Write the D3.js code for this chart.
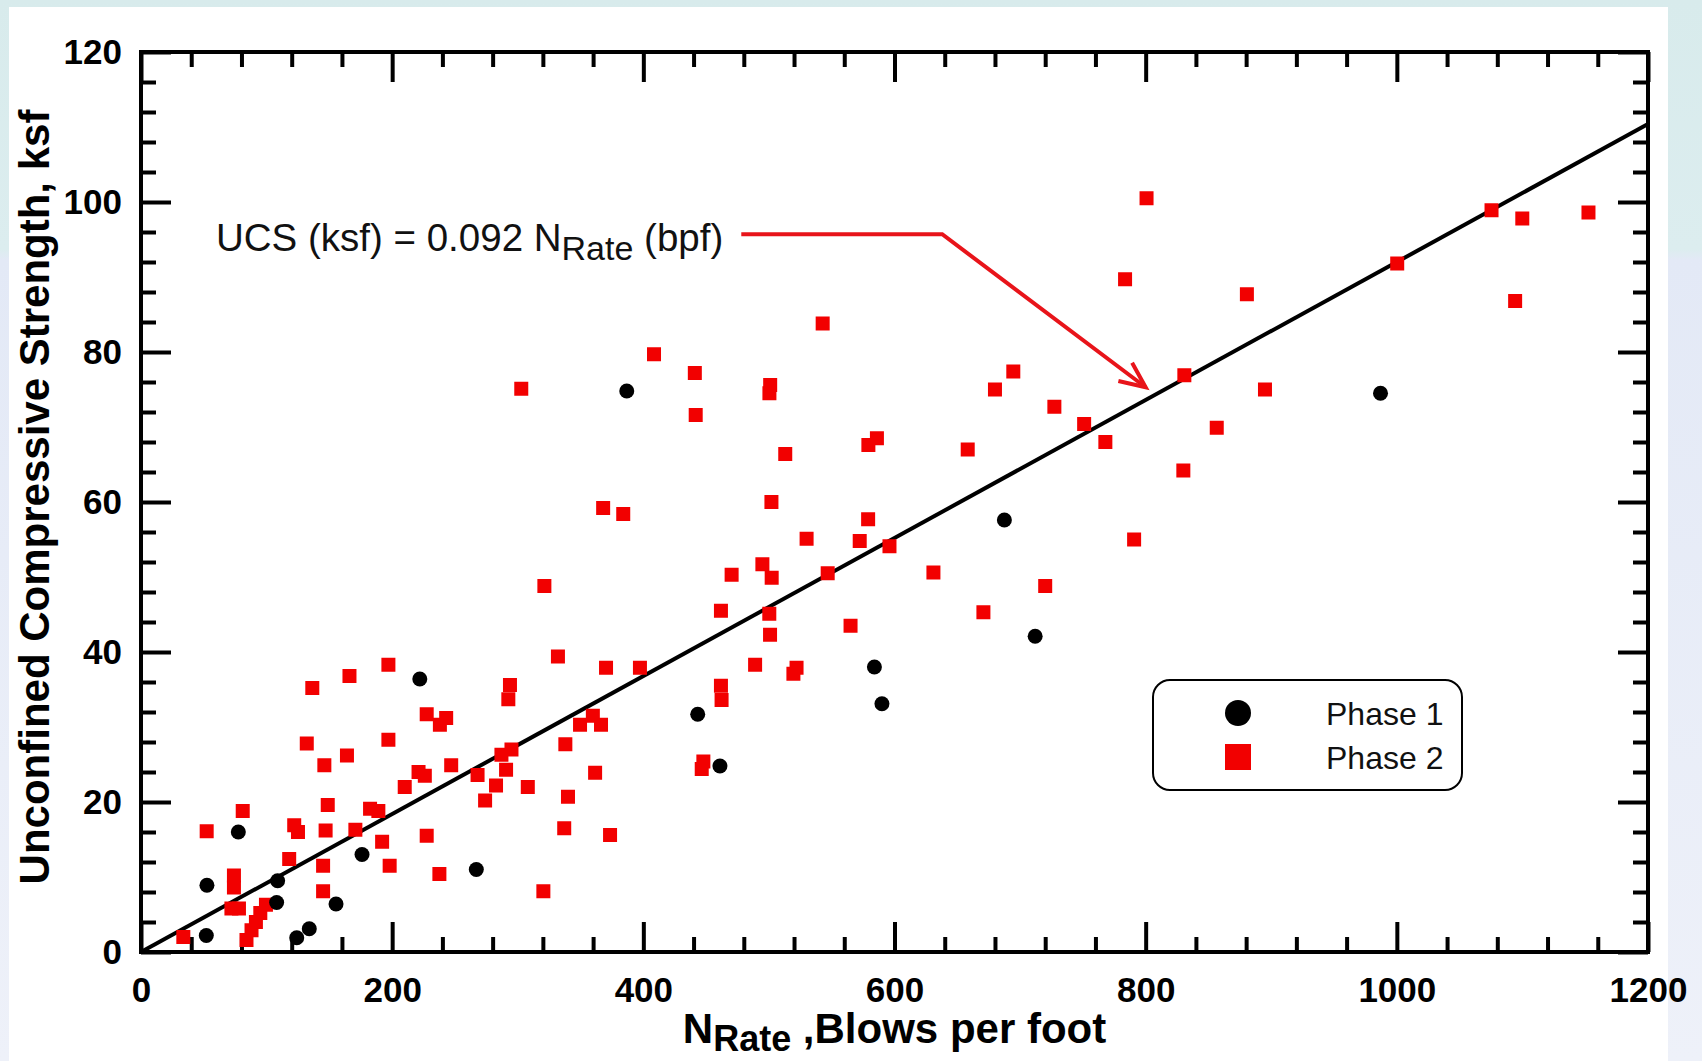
<!DOCTYPE html>
<html>
<head>
<meta charset="utf-8">
<script src="https://cdn.jsdelivr.net/npm/d3@7/dist/d3.min.js"></script>
<style>
  html, body { margin: 0; padding: 0; background: #ffffff; }
  svg { display: block; }
  text { font-family: "Liberation Sans", Arial, Helvetica, sans-serif; }
</style>
</head>
<body>
<svg id="chart" width="1702" height="1061"></svg>
<script>
// N_Rate (blows per foot) vs. unconfined compressive strength (ksf)
const phase1 = [
  [52, 2.2], [52.5, 8.9], [77.5, 16.0], [108, 6.6], [108.8, 9.5], [124, 1.9],
  [134, 3.1], [155.3, 6.4], [176, 13.0], [222, 36.4], [267, 11.0], [386.8, 74.8],
  [443.3, 31.7], [461, 24.8], [584, 38.0], [590, 33.1], [687.5, 57.6], [712, 42.1],
  [987, 74.5]
];

const phase2 = [
  [33.7, 2.0], [52.3, 16.1], [81, 18.8], [74, 10.2], [74, 8.6], [72, 5.8], [78, 5.8],
  [84, 1.6], [88, 2.9], [91.5, 4.0], [95, 5.2], [99.5, 6.3],
  [118, 12.4], [122, 16.9], [125, 16.0], [136.4, 35.2], [132, 27.8], [146, 24.9],
  [148.7, 19.6], [147, 16.2], [145, 11.5], [145, 8.1], [166, 36.8], [164, 26.2],
  [170.7, 16.3], [197, 38.3], [197, 28.3], [182.4, 19.1], [189, 18.8], [192, 14.7],
  [198, 11.5], [210, 22.0], [221, 24.0], [226, 23.5], [227.5, 31.7], [238, 30.3],
  [243, 31.2], [227.5, 15.5], [237.6, 10.4], [247, 24.9],
  [268, 23.6], [274, 20.2], [282.7, 22.2], [287, 26.3], [295, 27.0], [290.7, 24.3],
  [293.8, 35.6], [292.5, 33.7], [308, 22.0], [332, 39.4], [337.9, 27.7], [340, 20.7],
  [337, 16.5], [320.4, 8.1], [349.6, 30.3], [359.8, 31.5], [366.3, 30.3], [361.6, 23.9],
  [370.3, 37.9], [397.3, 37.9], [373.5, 15.6], [447.8, 25.4], [446.5, 24.4],
  [461.8, 35.5], [462.3, 33.6],
  [368, 59.2], [384, 58.4], [502, 60.0], [513, 66.4], [530, 55.1], [579, 57.7],
  [572.3, 54.8], [596, 54.1], [631, 50.6], [470.3, 50.3], [494.8, 51.7], [502.2, 49.9],
  [461.8, 45.5], [500.3, 45.1], [500.9, 42.3], [546.8, 50.5], [565, 43.5], [489, 38.3],
  [522, 37.9], [519.5, 37.1], [321.2, 48.8], [302.8, 75.1], [408.5, 79.7], [441, 77.2],
  [441.7, 71.6], [501, 75.6], [500.4, 74.5], [542.8, 83.8], [586, 68.5], [579.2, 67.6],
  [694.6, 77.4], [680, 75.0], [727.3, 72.7], [751, 70.4], [767.9, 68.0], [658.3, 67.0],
  [720, 48.8], [670.8, 45.3], [790.8, 55.0], [830.8, 76.9], [895, 75.0], [856.6, 69.9],
  [830, 64.2],
  [800.7, 100.5], [783.6, 89.7], [880.6, 87.7], [1000.3, 91.8], [1075.4, 98.9],
  [1099.9, 97.8], [1152.6, 98.6], [1094.2, 86.8]
];

// Fitted relation: UCS = 0.092 * N_Rate
const slope = 0.092;
const fitRange = [0, 1200];

const xMajor = [0, 200, 400, 600, 800, 1000, 1200];
const yMajor = [0, 20, 40, 60, 80, 100, 120];
const xMinor = d3.range(0, 1201, 40).filter(v => v % 200 !== 0);
const yMinor = d3.range(0, 121, 4).filter(v => v % 20 !== 0);

const seriesNames = ["Phase 1", "Phase 2"];

const W = 1702, H = 1061;
const plot = { left: 141, right: 1648, top: 52, bottom: 952 };

const svg = d3.select("#chart");

// page background with inset white panel
const defs = svg.append("defs");
const grad = defs.append("linearGradient")
  .attr("id", "pageBg").attr("x1", 0).attr("y1", 0).attr("x2", 0).attr("y2", 1);
grad.append("stop").attr("offset", "0%").attr("stop-color", "#d8ebec");
grad.append("stop").attr("offset", "23.5%").attr("stop-color", "#dcedef");
grad.append("stop").attr("offset", "24.5%").attr("stop-color", "#e3e9f6");
grad.append("stop").attr("offset", "100%").attr("stop-color", "#eef1f9");
svg.append("rect").attr("width", W).attr("height", H).attr("fill", "url(#pageBg)");
svg.append("rect").attr("x", 9).attr("y", 7).attr("width", 1659).attr("height", H - 7)
  .attr("fill", "#ffffff");

const x = d3.scaleLinear().domain([0, 1200]).range([plot.left, plot.right]);
const y = d3.scaleLinear().domain([0, 120]).range([plot.bottom, plot.top]);

function styleAxis(g) {
  g.select(".domain").remove();
  g.selectAll(".tick line").attr("stroke", "#000").attr("stroke-width", 4);
  g.selectAll(".tick text")
    .attr("fill", "#000")
    .style("font-size", "35px")
    .style("font-weight", "bold");
}

// bottom axis: major with labels, minor unlabeled
svg.append("g").attr("transform", `translate(0,${plot.bottom})`)
  .call(d3.axisBottom(x).tickValues(xMajor).tickSize(-30).tickPadding(25).tickFormat(d3.format("d")))
  .call(styleAxis);
svg.append("g").attr("transform", `translate(0,${plot.bottom})`)
  .call(d3.axisBottom(x).tickValues(xMinor).tickSize(-15).tickFormat(""))
  .call(styleAxis);
// top mirror ticks
svg.append("g").attr("transform", `translate(0,${plot.top})`)
  .call(d3.axisTop(x).tickValues(xMajor).tickSize(-30).tickFormat(""))
  .call(styleAxis);
svg.append("g").attr("transform", `translate(0,${plot.top})`)
  .call(d3.axisTop(x).tickValues(xMinor).tickSize(-15).tickFormat(""))
  .call(styleAxis);
// left axis
svg.append("g").attr("transform", `translate(${plot.left},0)`)
  .call(d3.axisLeft(y).tickValues(yMajor).tickSize(-30).tickPadding(19).tickFormat(d3.format("d")))
  .call(styleAxis);
svg.append("g").attr("transform", `translate(${plot.left},0)`)
  .call(d3.axisLeft(y).tickValues(yMinor).tickSize(-15).tickFormat(""))
  .call(styleAxis);
// right mirror ticks
svg.append("g").attr("transform", `translate(${plot.right},0)`)
  .call(d3.axisRight(y).tickValues(yMajor).tickSize(-30).tickFormat(""))
  .call(styleAxis);
svg.append("g").attr("transform", `translate(${plot.right},0)`)
  .call(d3.axisRight(y).tickValues(yMinor).tickSize(-15).tickFormat(""))
  .call(styleAxis);

// frame
svg.append("rect")
  .attr("x", plot.left).attr("y", plot.top)
  .attr("width", plot.right - plot.left).attr("height", plot.bottom - plot.top)
  .attr("fill", "none").attr("stroke", "#000").attr("stroke-width", 4);

// fitted line
svg.append("line")
  .attr("x1", x(fitRange[0])).attr("y1", y(slope * fitRange[0]))
  .attr("x2", x(fitRange[1])).attr("y2", y(slope * fitRange[1]))
  .attr("stroke", "#000").attr("stroke-width", 4);

// Phase 2 squares
const sq = 14;
svg.append("g").selectAll("rect").data(phase2).join("rect")
  .attr("x", d => x(d[0]) - sq / 2).attr("y", d => y(d[1]) - sq / 2)
  .attr("width", sq).attr("height", sq)
  .attr("fill", "#f20000");

// Phase 1 circles
svg.append("g").selectAll("circle").data(phase1).join("circle")
  .attr("cx", d => x(d[0])).attr("cy", d => y(d[1])).attr("r", 7.5)
  .attr("fill", "#000");

// equation annotation with leader arrow
const eq = svg.append("text").attr("x", 216).attr("y", 251)
  .style("font-size", "38.5px").attr("fill", "#111");
eq.append("tspan").text("UCS (ksf) = 0.092 N");
eq.append("tspan").text("Rate").style("font-size", "34px").attr("dy", 9);
eq.append("tspan").text(" (bpf)").attr("dy", -9);

const arrowPts = [[478, 95.7], [638, 95.7], [800, 75.3]];
const red = "#e8141a";
svg.append("path")
  .attr("d", d3.line()(arrowPts.map(p => [x(p[0]), y(p[1])])))
  .attr("fill", "none").attr("stroke", red).attr("stroke-width", 4);
{
  const [px, py] = [x(arrowPts[1][0]), y(arrowPts[1][1])];
  const [tx, ty] = [x(arrowPts[2][0]), y(arrowPts[2][1])];
  const ang = Math.atan2(ty - py, tx - px);
  const len = 28, spread = 0.42;
  const a1 = [tx - len * Math.cos(ang - spread), ty - len * Math.sin(ang - spread)];
  const a2 = [tx - len * Math.cos(ang + spread), ty - len * Math.sin(ang + spread)];
  svg.append("path")
    .attr("d", d3.line()([a1, [tx, ty], a2]))
    .attr("fill", "none").attr("stroke", red).attr("stroke-width", 4)
    .attr("stroke-linejoin", "miter");
}

// legend
const lg = svg.append("g");
lg.append("rect").attr("x", 1153).attr("y", 680).attr("width", 309).attr("height", 110)
  .attr("rx", 17).attr("fill", "#fff").attr("stroke", "#000").attr("stroke-width", 2);
lg.append("circle").attr("cx", 1238).attr("cy", 713).attr("r", 13).attr("fill", "#000");
lg.append("rect").attr("x", 1238 - 13).attr("y", 757 - 13).attr("width", 26).attr("height", 26)
  .attr("fill", "#f20000");
lg.selectAll("text.leg").data(seriesNames).join("text").attr("class", "leg")
  .attr("x", 1326).attr("y", (d, i) => 725 + i * 44)
  .style("font-size", "32px").attr("fill", "#111").text(d => d);

// axis titles
const xt = svg.append("text")
  .attr("x", (plot.left + plot.right) / 2).attr("y", 1043)
  .attr("text-anchor", "middle")
  .style("font-size", "42px").style("font-weight", "bold").attr("fill", "#000");
xt.append("tspan").text("N");
xt.append("tspan").text("Rate").style("font-size", "36px").attr("dy", 8);
xt.append("tspan").text(" ,Blows per foot").attr("dy", -8);

svg.append("text")
  .attr("transform", `translate(49,${(plot.top + plot.bottom) / 2 - 5}) rotate(-90)`)
  .attr("text-anchor", "middle")
  .style("font-size", "42px").style("font-weight", "bold").attr("fill", "#000")
  .text("Unconfined Compressive Strength, ksf");
</script>
</body>
</html>
